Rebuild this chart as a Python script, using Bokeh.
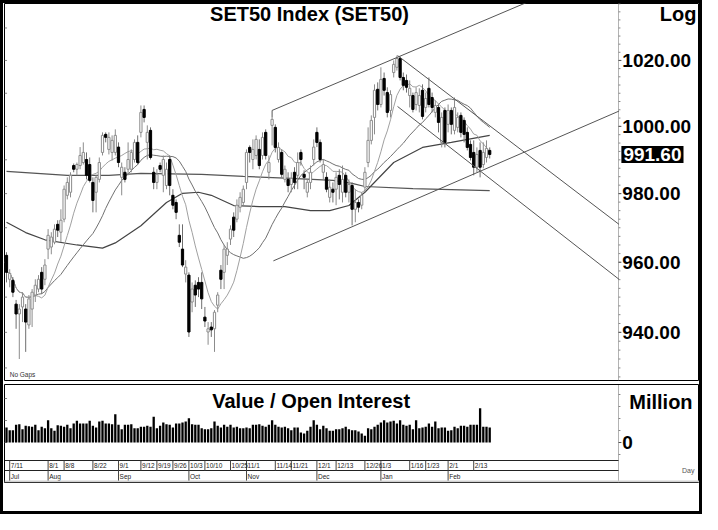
import numpy as np
import pandas as pd
from bokeh.plotting import figure
from bokeh.layouts import column
from bokeh.models import ColumnDataSource, Range1d, Label, Span
from bokeh.embed import file_html
from bokeh.resources import INLINE
from bokeh.core.properties import value

FONT = "Liberation Sans"

# ---------------- data (SET50, trading-day index) ----------------
opens = [962.0, 955.1, 954.8, 948.0, 945.2, 947.2, 946.6, 942.1, 946.6, 950.6,
         952.3, 957.1, 955.1, 963.8, 964.4, 965.8, 971.0, 968.7, 972.5, 979.5,
         980.4, 988.3, 987.2, 988.3, 989.2, 990.1, 988.6, 983.3, 980.4, 984.2,
         992.2, 997.6, 993.1, 992.2, 992.2, 993.8, 984.8, 986.3, 987.2, 987.2,
         990.1, 995.2, 998.2, 1005.1, 995.2, 998.8, 986.3, 983.3, 988.3, 985.4,
         982.4, 990.1, 979.5, 977.4, 967.8, 963.8, 956.6, 956.3, 948.6, 953.4,
         954.2, 954.2, 944.3, 940.1, 941.5, 941.0, 947.7, 957.7, 957.1, 962.0,
         966.7, 973.1, 972.5, 976.0, 977.4, 983.3, 993.7, 990.1, 991.3, 993.1,
         991.3, 998.2, 986.3, 1000.3, 999.7, 990.1, 992.2, 984.2, 984.2, 982.7,
         986.3, 985.4, 992.2, 985.7, 980.4, 983.3, 990.1, 998.2, 995.2, 986.3,
         984.8, 978.9, 981.3, 981.3, 985.4, 980.4, 985.4, 980.4, 982.4, 975.4,
         977.4, 976.6, 981.9, 989.2, 995.8, 1002.7, 1011.2, 1006.6, 1014.5, 1010.2,
         1004.8, 1016.3, 1017.9, 1020.6, 1014.8, 1013.9, 1009.3, 1009.3, 1006.6, 1006.3,
         1010.9, 1005.7, 1011.5, 1008.7, 1004.2, 1005.7, 995.2, 1004.8, 1000.6, 1004.8,
         998.8, 999.7, 1003.3, 1001.8, 998.2, 994.6, 992.2, 987.8, 992.8, 988.6,
         990.7, 992.8]
highs = [962.9, 958.0, 955.7, 949.2, 948.0, 951.4, 948.0, 950.6, 952.3, 955.1,
         956.3, 958.6, 960.9, 969.6, 968.7, 971.0, 972.2, 975.4, 982.4, 984.8,
         986.3, 988.9, 989.2, 993.8, 995.2, 992.2, 990.7, 984.8, 985.4, 990.7,
         998.2, 998.2, 998.2, 997.3, 999.1, 995.2, 989.2, 987.8, 995.2, 993.1,
         996.1, 997.3, 1006.3, 1006.3, 1000.3, 999.7, 987.8, 987.2, 989.2, 991.3,
         989.2, 991.3, 981.3, 978.3, 971.0, 971.0, 960.6, 957.1, 954.2, 954.8,
         955.7, 957.1, 947.2, 942.9, 942.9, 946.3, 951.4, 959.2, 965.0, 965.8,
         970.7, 974.5, 978.3, 980.4, 982.4, 993.1, 994.3, 996.1, 997.3, 996.1,
         998.2, 999.1, 991.3, 1002.7, 1000.6, 995.2, 993.1, 988.3, 986.3, 986.3,
         987.8, 992.2, 993.1, 986.9, 984.2, 988.3, 996.1, 999.7, 996.1, 990.1,
         986.3, 984.2, 983.3, 986.3, 987.2, 988.3, 986.3, 984.2, 983.3, 981.3,
         978.3, 980.4, 987.8, 999.7, 1003.3, 1012.7, 1013.3, 1017.9, 1016.3, 1011.8,
         1010.9, 1020.0, 1021.5, 1021.2, 1016.3, 1015.7, 1013.9, 1010.2, 1011.8, 1011.5,
         1012.7, 1010.2, 1014.8, 1010.2, 1007.8, 1006.6, 1004.2, 1005.7, 1006.6, 1005.7,
         1008.7, 1004.2, 1004.2, 1002.7, 999.7, 995.8, 995.8, 993.7, 995.2, 995.2,
         995.8, 993.7]
lows = [954.2, 952.8, 950.0, 941.0, 932.5, 942.9, 934.5, 941.0, 941.5, 948.6,
        951.4, 950.9, 953.4, 960.9, 962.3, 965.2, 967.3, 965.8, 971.6, 978.3,
        978.9, 986.3, 985.4, 987.2, 988.6, 984.2, 983.3, 974.5, 974.5, 983.3,
        991.3, 995.2, 991.6, 989.8, 991.3, 987.8, 979.5, 983.3, 985.4, 986.3,
        989.2, 988.6, 996.7, 1001.2, 990.1, 990.1, 981.3, 981.3, 986.3, 980.4,
        981.3, 979.5, 975.4, 972.5, 964.4, 958.6, 954.2, 938.7, 945.7, 947.2,
        950.0, 946.6, 941.5, 936.5, 938.7, 934.5, 945.7, 952.3, 952.3, 959.2,
        965.0, 967.3, 971.6, 974.5, 976.6, 981.3, 989.2, 987.2, 990.1, 987.2,
        990.1, 990.1, 984.2, 994.3, 992.2, 989.2, 984.8, 983.3, 980.4, 980.4,
        981.3, 981.3, 988.3, 981.3, 978.9, 981.3, 988.3, 993.8, 989.2, 984.2,
        980.4, 977.4, 977.4, 976.6, 978.3, 977.4, 978.9, 977.4, 970.7, 971.6,
        974.5, 975.4, 980.4, 987.8, 994.6, 997.6, 1004.8, 1005.7, 1009.3, 1002.7,
        1002.7, 1014.8, 1016.9, 1013.9, 1010.9, 1010.2, 1005.7, 1004.2, 1004.8, 1004.2,
        1002.1, 1004.2, 1005.7, 1004.2, 1002.7, 998.2, 993.7, 993.7, 998.2, 997.6,
        997.6, 998.2, 996.7, 995.2, 992.8, 989.8, 985.4, 986.3, 984.8, 987.5,
        989.2, 990.4]
closes = [957.1, 956.8, 951.4, 945.2, 946.6, 950.0, 942.9, 949.5, 951.4, 953.4,
          955.1, 952.3, 959.2, 967.8, 967.3, 969.6, 969.3, 972.2, 981.3, 983.3,
          985.4, 987.2, 988.6, 991.3, 992.2, 985.4, 983.9, 978.0, 984.8, 989.2,
          997.3, 996.7, 996.7, 995.8, 997.3, 989.2, 987.8, 984.2, 990.1, 992.2,
          995.2, 989.2, 1004.2, 1002.7, 998.2, 990.7, 983.3, 985.7, 987.2, 990.1,
          987.2, 982.4, 976.6, 974.5, 965.8, 959.2, 958.6, 940.1, 952.3, 950.6,
          952.3, 949.5, 943.2, 941.0, 940.7, 945.7, 950.6, 955.1, 963.8, 963.8,
          969.6, 969.3, 976.6, 978.9, 981.3, 992.2, 992.2, 993.1, 996.1, 988.3,
          996.7, 991.3, 989.2, 1002.1, 993.7, 993.7, 985.7, 987.2, 982.4, 984.5,
          983.3, 989.2, 990.1, 984.8, 983.3, 986.3, 993.8, 995.2, 990.1, 988.6,
          981.3, 981.9, 980.4, 984.8, 982.7, 984.2, 980.4, 982.7, 975.4, 977.4,
          976.0, 979.5, 986.3, 995.8, 1001.8, 1010.9, 1006.6, 1014.2, 1010.9, 1004.2,
          1009.6, 1018.8, 1020.6, 1014.8, 1012.4, 1011.8, 1011.5, 1005.1, 1010.2, 1009.3,
          1003.0, 1008.4, 1006.6, 1005.7, 1006.3, 1001.2, 1002.7, 995.2, 1004.8, 1000.6,
          1005.7, 1002.7, 998.2, 997.6, 993.7, 990.7, 987.8, 991.6, 987.8, 992.2,
          993.4, 991.6]
# traded value, million baht
volume = [30000, 24700, 24700, 35300, 36700, 26700, 33300, 32700, 31300, 35300,
          24700, 31300, 28700, 44700, 28700, 23300, 34700, 33300, 31300, 35300,
          28700, 38000, 43300, 38000, 38000, 38000, 43300, 33300, 30000, 42000,
          43300, 38000, 38000, 36700, 56700, 35300, 26700, 35300, 35300, 36700,
          28700, 28700, 31300, 31300, 33300, 31300, 51300, 28700, 33300, 40000,
          36700, 35300, 30000, 38000, 38000, 40000, 42000, 48700, 36700, 35300,
          35300, 28700, 26700, 26700, 28700, 42000, 33300, 30000, 35300, 31300,
          35300, 30000, 31300, 28700, 28700, 30000, 28700, 35300, 35300, 36700,
          33300, 31300, 35300, 44700, 35300, 31300, 30000, 31300, 28700, 24700,
          30000, 30000, 20000, 18000, 23300, 31300, 44700, 35300, 26700, 33300,
          28700, 23300, 23300, 26700, 26700, 28700, 31300, 26700, 24700, 24700,
          22000, 18000, 13300, 28700, 26700, 31300, 35300, 40000, 44700, 40000,
          42000, 43300, 38000, 44700, 35300, 33300, 35300, 26700, 44700, 28700,
          30000, 31300, 38000, 31300, 42000, 28700, 30000, 30000, 23300, 24700,
          31300, 28700, 33300, 33300, 31300, 35300, 35300, 35300, 68700, 31300,
          31300, 30000]

# longer moving averages (they need history before the window)
ma_mid_idx = [0, 6, 12, 22, 30, 34, 42, 50, 55, 60, 64, 71, 79, 87, 95, 101, 107,
              112, 121, 130, 139, 151]
ma_mid_val = [971.6, 968.6, 966.5, 965.0, 964.1, 965.6, 970.6, 977.4, 980.1, 980.4,
              979.5, 976.5, 976.2, 976.2, 975.0, 975.0, 976.5, 980.4, 989.2, 993.7,
              995.2, 997.3]
ma_long_idx = [0, 19, 32, 42, 61, 74, 89, 102, 108, 112, 127, 139, 151]
ma_long_val = [986.6, 985.4, 985.4, 986.0, 985.7, 985.1, 984.5, 983.9, 983.0, 982.1,
               981.5, 981.2, 980.9]

# trend lines (start index, start price, end index, end price)
trend_x0 = [83.0, 83.4, 122.2, 122.2]
trend_y0 = [1004.8, 960.4, 1021.5, 1006.0]
trend_x1 = [175.0, 191.4, 191.4, 191.4]
trend_y1 = [1043.2, 1004.6, 971.0, 955.1]

last_price = 991.60
price_ticks = [940, 960, 980, 1000, 1020]
price_minor = [927.5 + 2.5 * k for k in range(45)]
price_left_ticks = [930 + 10 * k for k in range(11)]
value_ticks = [0]
value_minor = [-24000, 24000, 48000, 72000, 96000]
value_left_ticks = [0, 44000, 88000]

date_idx = [1, 13, 18, 27, 35, 42, 47, 52, 57, 62, 70, 75, 84, 89, 97, 103, 112,
            117, 126, 131, 138, 146]
date_lbl = ["7/11", "8/1", "8/8", "8/22", "9/1", "9/12", "9/19", "9/26", "10/3",
            "10/10", "10/25", "11/1", "11/14", "11/21", "12/1", "12/13", "12/26",
            "1/3", "1/16", "1/23", "2/1", "2/13"]
month_idx = [1, 13, 35, 57, 75, 97, 117, 138]
month_lbl = ["Jul", "Aug", "Sep", "Oct", "Nov", "Dec", "Jan", "Feb"]

# ---------------- derived ----------------
n = len(closes)
df = pd.DataFrame(dict(x=np.arange(n), o=opens, h=highs, l=lows, c=closes, v=volume))
df["top"] = df[["o", "c"]].max(axis=1)
df["bot"] = df[["o", "c"]].min(axis=1)
df["ma10"] = df["c"].rolling(10, min_periods=1).mean()
df["ma25"] = df["c"].rolling(25, min_periods=1).mean()
up = ColumnDataSource(df[df.c >= df.o])
dn = ColumnDataSource(df[df.c < df.o])
allsrc = ColumnDataSource(df)

X_LEFT, AXIS_X, X_RIGHT = -0.625, 191.25, 216.56
XR = Range1d(X_LEFT, X_RIGHT)
LBL_X = AXIS_X + 1.2


def scale_axis(p, ticks, minor, labels, left_ticks, axis_top, axis_bottom):
    """Right-hand price/value scale drawn at the end of the date axis."""
    p.segment([AXIS_X], [axis_bottom], [AXIS_X], [axis_top], line_color="#666666",
              line_dash="1 1", line_width=1)
    p.segment([AXIS_X] * len(minor), minor, [AXIS_X + 0.6] * len(minor), minor,
              line_color="#888888", line_width=1)
    p.segment([AXIS_X] * len(ticks), ticks, [AXIS_X + 0.9] * len(ticks), ticks,
              line_color="#555555", line_width=1)
    p.segment([X_LEFT] * len(left_ticks), left_ticks, [X_LEFT + 0.8] * len(left_ticks),
              left_ticks, line_color="#888888", line_width=1)
    p.text([LBL_X] * len(ticks), ticks, text=labels, text_font=value(FONT),
           text_font_style="bold", text_font_size="19px", text_align="left",
           text_baseline="middle", text_color="black")


# ---------------- price panel ----------------
P_LO, P_HI = 926.5, 1037.6
p1 = figure(width=696, height=379, x_range=XR, y_range=Range1d(P_LO, P_HI),
            y_axis_type="log", x_axis_location=None, y_axis_location=None,
            toolbar_location=None, output_backend="svg",
            min_border_left=1, min_border_right=0, min_border_top=0, min_border_bottom=2,
            outline_line_color="black", outline_line_width=1,
            background_fill_color="white", border_fill_color="white")
p1.grid.grid_line_color = None

scale_axis(p1, price_ticks, price_minor, [f"{t:.2f}" for t in price_ticks],
           price_left_ticks, P_HI, P_LO)

# moving averages
p1.line(ma_long_idx, ma_long_val, line_color="#555555", line_width=1.2)
p1.line(ma_mid_idx, ma_mid_val, line_color="#444444", line_width=1.2)
p1.line("x", "ma25", source=allsrc, line_color="#707070", line_width=1)
p1.line("x", "ma10", source=allsrc, line_color="#a0a0a0", line_width=1)

# candles
p1.segment("x", "l", "x", "h", source=up, line_color="#8c8c8c", line_width=1)
p1.segment("x", "l", "x", "h", source=dn, line_color="#6e6e6e", line_width=1)
p1.vbar("x", 0.7, "top", "bot", source=up, fill_color="white", line_color="#8c8c8c",
        line_width=1)
p1.vbar("x", 0.7, "top", "bot", source=dn, fill_color="black", line_color="black",
        line_width=1)

# trend lines
p1.segment(trend_x0, trend_y0, trend_x1, trend_y1, line_color="#555555", line_width=1)
p1.segment([trend_x0[0]], [trend_y0[0]], [trend_x0[0]], [highs[83]],
           line_color="#555555", line_width=1)

p1.add_layout(Label(x=94.7, y=1034.2, text="SET50 Index (SET50)", text_align="center",
                    text_baseline="middle", text_font=FONT, text_font_style="bold",
                    text_font_size="20px", text_color="black"))
p1.add_layout(Label(x=215.6, y=1034.2, text="Log", text_align="right",
                    text_baseline="middle", text_font=FONT, text_font_style="bold",
                    text_font_size="20px", text_color="black"))
p1.add_layout(Label(x=LBL_X - 0.3, y=last_price, text=f"{last_price:.2f}", text_align="left",
                    text_baseline="middle", text_font=FONT, text_font_style="bold",
                    text_font_size="19px", text_color="white",
                    background_fill_color="black", padding=2))
p1.add_layout(Label(x=1.0, y=928.3, text="No Gaps", text_align="left",
                    text_baseline="middle", text_font=FONT, text_font_size="6.5px",
                    text_color="#333333"))

# ---------------- value panel ----------------
V_LO, V_HI = -80000, 116000
p2 = figure(width=696, height=129, x_range=XR, y_range=Range1d(V_LO, V_HI),
            x_axis_location=None, y_axis_location=None,
            toolbar_location=None, output_backend="svg",
            min_border_left=1, min_border_right=0, min_border_top=2, min_border_bottom=29,
            outline_line_color="black", outline_line_width=1,
            background_fill_color="white", border_fill_color="white")
p2.grid.grid_line_color = None

scale_axis(p2, value_ticks, value_minor, [str(t) for t in value_ticks],
           value_left_ticks, V_HI, V_LO)

p2.vbar("x", 0.72, "v", 0, source=allsrc, fill_color="black", line_color=None)

ROW1_TOP, ROW1_BOT, ROW2_BOT = -36000, -56000, -78000
p2.segment([X_LEFT, X_LEFT], [ROW1_TOP, ROW1_BOT], [AXIS_X, AXIS_X], [ROW1_TOP, ROW1_BOT],
           line_color="#222222", line_width=1)
p2.add_layout(Span(location=ROW2_BOT, dimension="width", line_color="#d0d0d0", line_width=2))

p2.segment(date_idx, [ROW1_TOP] * len(date_idx), date_idx, [ROW1_BOT] * len(date_idx),
           line_color="#444444", line_width=1)
p2.text([d + 0.35 for d in date_idx], [(ROW1_TOP + ROW1_BOT) / 2] * len(date_idx),
        text=date_lbl, text_font=value(FONT), text_font_size="6.5px",
        text_align="left", text_baseline="middle", text_color="#222222")
p2.segment(month_idx, [ROW1_BOT] * len(month_idx), month_idx, [ROW2_BOT] * len(month_idx),
           line_color="#444444", line_width=1)
p2.text([m + 0.35 for m in month_idx], [(ROW1_BOT + ROW2_BOT) / 2] * len(month_idx),
        text=month_lbl, text_font=value(FONT), text_font_size="6.5px",
        text_align="left", text_baseline="middle", text_color="#222222")

p2.add_layout(Label(x=95.2, y=84000, text="Value / Open Interest", text_align="center",
                    text_baseline="middle", text_font=FONT, text_font_style="bold",
                    text_font_size="20px", text_color="black"))
p2.add_layout(Label(x=214.4, y=82000, text="Million", text_align="right",
                    text_baseline="middle", text_font=FONT, text_font_style="bold",
                    text_font_size="20px", text_color="black"))
p2.add_layout(Label(x=215.0, y=-56000, text="Day", text_align="right",
                    text_baseline="middle", text_font=FONT, text_font_size="7px",
                    text_color="#555555"))

layout = column(p1, p2, spacing=0, styles={"border": "3px solid black"})

open("out.html", "w").write(file_html(layout, INLINE))
